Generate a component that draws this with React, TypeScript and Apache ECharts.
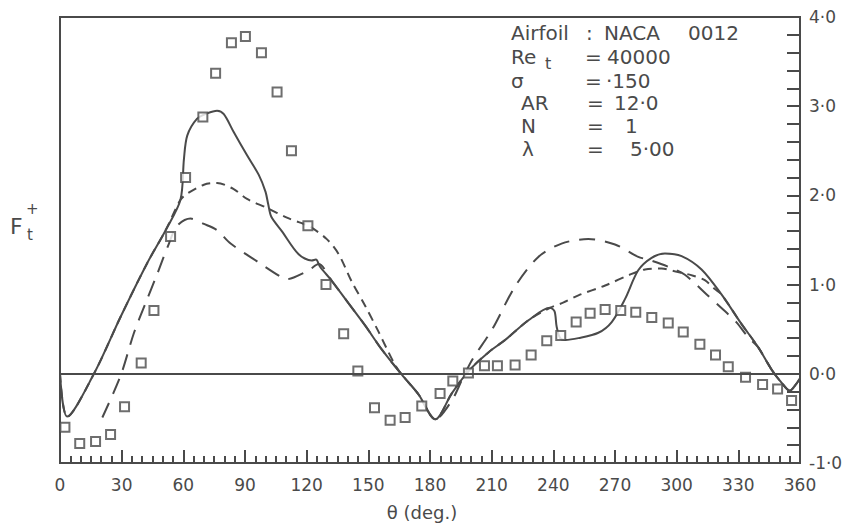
import React, { useEffect, useRef } from "react";
import * as echarts from "echarts";

// Experimental points (squares)
const expTheta = [2.4, 9.6, 17.3, 24.6, 31.4, 39.5, 45.7, 53.8, 61.1, 69.5, 75.7, 83.4, 90.2, 98.0, 105.6, 112.6, 120.6, 129.4, 138.0, 144.9, 153.0, 160.6, 167.9, 176.0, 184.9, 191.1, 198.7, 206.5, 212.8, 221.4, 229.2, 236.8, 243.6, 251.1, 257.9, 265.2, 272.8, 280.1, 287.9, 295.9, 303.2, 311.3, 318.9, 325.1, 333.5, 341.8, 349.1, 355.9];
const expF = [-0.60, -0.78, -0.76, -0.68, -0.37, 0.12, 0.71, 1.54, 2.20, 2.88, 3.37, 3.71, 3.78, 3.60, 3.16, 2.50, 1.66, 1.00, 0.45, 0.03, -0.38, -0.52, -0.49, -0.36, -0.22, -0.08, 0.01, 0.09, 0.09, 0.10, 0.21, 0.37, 0.43, 0.58, 0.68, 0.72, 0.71, 0.69, 0.63, 0.57, 0.47, 0.33, 0.21, 0.08, -0.04, -0.12, -0.17, -0.30];

// Solid curve
const solidTheta = [0, 3.5, 16.5, 29.5, 42.4, 51.4, 58.6, 60.3, 61.9, 66.7, 71.6, 76.4, 79.7, 84.5, 91, 96.7, 100, 101.3, 102.8, 107.9, 116.1, 122.4, 124.5, 126.5, 132.3, 140.4, 148.5, 156.6, 166.3, 174.4, 182.6, 190.6, 198.7, 208.4, 216.6, 227.9, 238.4, 240.6, 241.6, 243.3, 245.7, 252.2, 261.9, 268.4, 274.9, 281.3, 287.8, 294.3, 302.4, 312.1, 321.8, 331.5, 339.6, 346.1, 351, 355, 358.3, 360];
const solidF = [0, -0.48, 0, 0.64, 1.24, 1.61, 1.95, 2.41, 2.67, 2.86, 2.92, 2.95, 2.91, 2.71, 2.45, 2.23, 2.04, 1.9, 1.76, 1.6, 1.34, 1.27, 1.28, 1.2, 1.04, 0.79, 0.54, 0.27, -0.01, -0.23, -0.51, -0.22, 0.03, 0.24, 0.38, 0.6, 0.74, 0.7, 0.53, 0.4, 0.38, 0.4, 0.46, 0.58, 0.84, 1.16, 1.3, 1.35, 1.32, 1.17, 0.89, 0.56, 0.3, 0.05, -0.1, -0.19, -0.11, -0.05];

// Short-dashed curve
const shortTheta = [0, 3.5, 16.5, 29.5, 42.4, 51.4, 58.6, 61.9, 70, 76.4, 84.5, 91, 100.7, 110.4, 118.6, 121, 129.8, 135.6, 142, 148.5, 155, 159, 163, 166.3, 174.4, 182.6, 190.6, 198.7, 208.4, 216.6, 227.9, 238.4, 245, 252.2, 265.2, 278.1, 284.6, 292.7, 299, 308, 313.7, 318.6, 321.8, 331.5, 339.6, 346.1, 351, 355, 358.3, 360];
const shortF = [0, -0.48, 0, 0.64, 1.24, 1.61, 1.95, 2.02, 2.12, 2.14, 2.07, 1.96, 1.86, 1.75, 1.68, 1.66, 1.51, 1.34, 1.03, 0.76, 0.47, 0.28, 0.1, -0.01, -0.23, -0.51, -0.22, 0.03, 0.24, 0.38, 0.6, 0.74, 0.8, 0.88, 0.99, 1.12, 1.17, 1.18, 1.15, 1.1, 1.05, 0.95, 0.89, 0.56, 0.3, 0.05, -0.1, -0.19, -0.11, -0.05];

// Long-dashed curve
const longTheta = [20.6, 29.5, 36, 41.6, 47.3, 53, 57, 63.5, 70, 76.4, 83, 95.9, 107.2, 110.4, 113.7, 121, 125.8, 132.3, 140.4, 148.5, 156.6, 166.3, 174.4, 182.6, 190.6, 195.7, 200.6, 210.3, 221.4, 232.7, 244, 257, 270, 281.3, 286.2, 295.9, 304, 314.6, 322.6, 329, 334.8, 339.6, 346.1, 351, 355, 358.3, 360];
const longF = [-0.49, -0.02, 0.46, 0.79, 1.12, 1.46, 1.66, 1.74, 1.68, 1.61, 1.46, 1.26, 1.09, 1.06, 1.08, 1.16, 1.23, 1.04, 0.79, 0.54, 0.27, -0.01, -0.23, -0.51, -0.3, -0.06, 0.16, 0.5, 0.98, 1.31, 1.46, 1.51, 1.45, 1.31, 1.28, 1.2, 1.11, 0.89, 0.72, 0.58, 0.41, 0.3, 0.05, -0.1, -0.19, -0.11, -0.05];

const yTickLabels = ["-1·0", "0·0", "1·0", "2·0", "3·0", "4·0"];

const INK = "#4a4a4a";
const FONT = "'DejaVu Sans', sans-serif";

const pairs = (xs: number[], ys: number[]) => xs.map((x, i) => [x, ys[i]]);

export default function App() {
  const ref = useRef<HTMLDivElement>(null);
  useEffect(() => {
    if (!ref.current) return;
    const chart = echarts.init(ref.current, null, { renderer: "svg" });
    const txt = (text: string, x: number, y: number, size = 20) => ({
      type: "text",
      x,
      y,
      style: { text, fill: INK, fontSize: size, fontFamily: FONT, verticalAlign: "middle" },
    });
    chart.setOption({
      animation: false,
      backgroundColor: "#ffffff",
      grid: { left: 60, right: 58, top: 17, bottom: 62, show: true, borderColor: INK, borderWidth: 2, backgroundColor: "transparent" },
      xAxis: {
        type: "value",
        min: 0,
        max: 360,
        interval: 30,
        name: "θ (deg.)",
        nameLocation: "middle",
        nameGap: 40,
        nameTextStyle: { color: INK, fontSize: 18, fontFamily: FONT, padding: [0, 16, 0, 0] },
        axisLine: { show: true, onZero: false, lineStyle: { color: INK, width: 2 } },
        axisTick: { show: true, inside: true, length: 13, lineStyle: { color: INK, width: 2 } },
        minorTick: { show: true, splitNumber: 6, length: 7, lineStyle: { color: INK, width: 2 } },
        axisLabel: { color: INK, fontSize: 17, fontFamily: FONT, margin: 13 },
        splitLine: { show: false },
      },
      yAxis: {
        type: "value",
        position: "right",
        min: -1,
        max: 4,
        interval: 1,
        axisLine: { show: true, onZero: false, lineStyle: { color: INK, width: 2 } },
        axisTick: { show: true, inside: true, length: 13, lineStyle: { color: INK, width: 2 } },
        minorTick: { show: true, splitNumber: 5, length: 13, lineStyle: { color: INK, width: 2 } },
        axisLabel: {
          color: INK,
          fontSize: 17,
          fontFamily: FONT,
          margin: 9,
          formatter: (v: number) => yTickLabels[Math.round(v) + 1],
        },
        splitLine: { show: false },
      },
      series: [
        {
          type: "line",
          name: "solid",
          data: pairs(solidTheta, solidF),
          showSymbol: false,
          smooth: 0.3,
          lineStyle: { color: INK, width: 2 },
          markLine: {
            silent: true,
            symbol: "none",
            label: { show: false },
            lineStyle: { color: INK, width: 2, type: "solid" },
            data: [{ yAxis: 0 }],
          },
          z: 3,
        },
        {
          type: "line",
          name: "short dash",
          data: pairs(shortTheta, shortF),
          showSymbol: false,
          smooth: 0.3,
          lineStyle: { color: INK, width: 2, type: [9, 6] },
          z: 2,
        },
        {
          type: "line",
          name: "long dash",
          data: pairs(longTheta, longF),
          showSymbol: false,
          smooth: 0.3,
          lineStyle: { color: INK, width: 2, type: [16, 10] },
          z: 2,
        },
        {
          type: "scatter",
          name: "experiment",
          data: pairs(expTheta, expF),
          symbol: "rect",
          symbolSize: 9,
          itemStyle: { color: "#ffffff", borderColor: INK, borderWidth: 2 },
          z: 4,
        },
      ],
      graphic: [
        txt("F", 10, 226, 22),
        txt("+", 26, 209, 15),
        txt("t", 27, 235, 15),
        txt("Airfoil", 511, 33),
        txt(":", 586, 33),
        txt("NACA", 604, 33),
        txt("0012", 688, 33),
        txt("Re", 511, 57),
        txt("t", 545, 63, 16),
        txt("=", 585, 57),
        txt("40000", 607, 57),
        txt("σ", 511, 81),
        txt("=", 585, 81),
        txt("·150", 606, 81),
        txt("AR", 521, 103),
        txt("=", 587, 103),
        txt("12·0", 614, 103),
        txt("N", 521, 126),
        txt("=", 587, 126),
        txt("1", 625, 126),
        txt("λ", 522, 149),
        txt("=", 587, 149),
        txt("5·00", 630, 149),
      ],
    });
    return () => chart.dispose();
  }, []);
  return <div ref={ref} style={{ position: "fixed", left: 0, top: 0, width: 858, height: 526 }} />;
}
